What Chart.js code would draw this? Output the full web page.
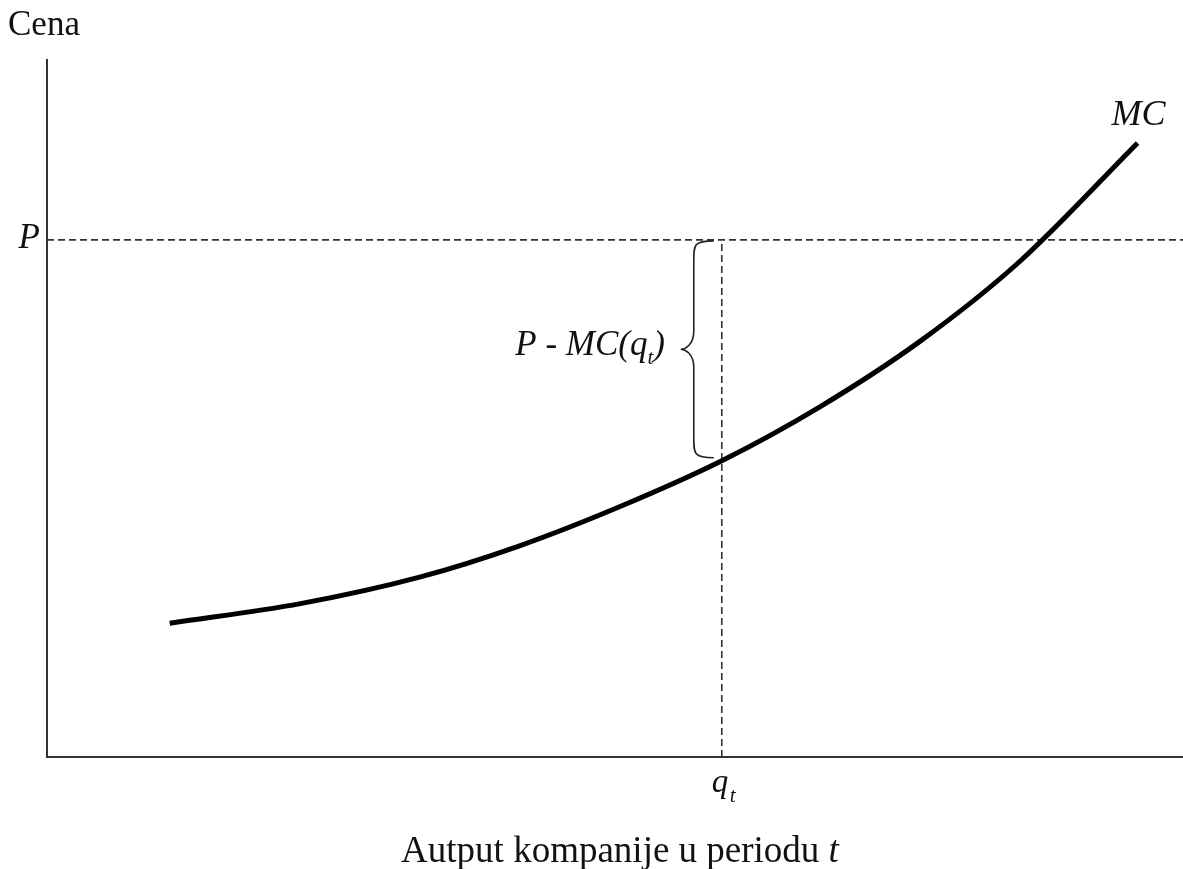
<!DOCTYPE html>
<html>
<head>
<meta charset="utf-8">
<script src="https://cdn.jsdelivr.net/npm/chart.js@4"></script>
<style>
  body { margin: 0; background: #fff; }
</style>
</head>
<body>
<canvas id="chart" width="1183" height="869"></canvas>
<script>
// Kriva granicnog troska (MC), ocitano sa slike
const mcOutput = [1.08, 2.23, 3.28, 4.16, 5.04, 5.94, 6.80, 7.69, 8.57, 9.60];
const mcCost = [1.92, 2.20, 2.58, 3.03, 3.59, 4.25, 5.02, 5.97, 7.12, 8.81];

// Cena P i output q_t
const priceP = 7.42;
const outputQt = 5.94;
const mcAtQt = 4.25;

const axisMax = [10, 10];

const serif = '"Liberation Serif", "Times New Roman", serif';

// Plugin za tekst i viticastu zagradu
const labelsPlugin = {
  id: 'labels',
  afterDraw(chart) {
    const ctx = chart.ctx;
    const xs = chart.scales.x;
    const ys = chart.scales.y;
    ctx.save();
    ctx.fillStyle = '#111';
    ctx.textBaseline = 'alphabetic';

    // Cena
    ctx.font = '35px ' + serif;
    ctx.textAlign = 'left';
    ctx.fillText('Cena', 8, 35);

    // P
    const py = ys.getPixelForValue(priceP);
    ctx.font = 'italic 35px ' + serif;
    ctx.textAlign = 'right';
    ctx.fillText('P', 40, py + 8);

    // q_t
    const qx = xs.getPixelForValue(outputQt);
    ctx.textAlign = 'left';
    ctx.font = 'italic 33px ' + serif;
    ctx.fillText('q', qx - 10, 792);
    ctx.font = 'italic 21px ' + serif;
    ctx.fillText('t', qx + 8, 802);

    // MC
    const lastX = xs.getPixelForValue(mcOutput[mcOutput.length - 1]);
    const lastY = ys.getPixelForValue(mcCost[mcCost.length - 1]);
    ctx.font = 'italic 36px ' + serif;
    ctx.fillText('MC', lastX - 26, lastY - 18);

    // Viticasta zagrada
    const yTop = py + 1;
    const yBot = ys.getPixelForValue(mcAtQt) - 3;
    const yMid = (yTop + yBot) / 2;
    const xr = qx - 8;
    const xm = xr - 20;
    const xt = xr - 33;
    ctx.strokeStyle = '#222';
    ctx.lineWidth = 1.6;
    ctx.beginPath();
    ctx.moveTo(xr, yTop);
    ctx.bezierCurveTo(xm, yTop, xm, yTop + 4, xm, yTop + 20);
    ctx.lineTo(xm, yMid - 18);
    ctx.bezierCurveTo(xm, yMid - 4, xt + 4, yMid, xt, yMid);
    ctx.bezierCurveTo(xt + 4, yMid, xm, yMid + 4, xm, yMid + 18);
    ctx.lineTo(xm, yBot - 20);
    ctx.bezierCurveTo(xm, yBot - 4, xm, yBot, xr, yBot);
    ctx.stroke();

    // P - MC(q_t)
    ctx.font = 'italic 35px ' + serif;
    const part1 = 'P - MC(q';
    const w1 = ctx.measureText(part1).width;
    const wParen = ctx.measureText(')').width;
    ctx.font = 'italic 21px ' + serif;
    const wSub = ctx.measureText('t').width;
    let tx = 665 - (w1 + wSub + wParen);
    const tb = yMid + 6;
    ctx.font = 'italic 35px ' + serif;
    ctx.fillText(part1, tx, tb);
    ctx.font = 'italic 21px ' + serif;
    ctx.fillText('t', tx + w1, tb + 9);
    ctx.font = 'italic 35px ' + serif;
    ctx.fillText(')', tx + w1 + wSub, tb);

    // Autput kompanije u periodu t
    ctx.font = '37px ' + serif;
    const main = 'Autput kompanije u periodu ';
    const wm = ctx.measureText(main).width;
    ctx.font = 'italic 37px ' + serif;
    const wt = ctx.measureText('t').width;
    const bx = 620 - (wm + wt) / 2;
    ctx.font = '37px ' + serif;
    ctx.fillText(main, bx, 862);
    ctx.font = 'italic 37px ' + serif;
    ctx.fillText('t', bx + wm, 862);

    ctx.restore();
  }
};

const ctx = document.getElementById('chart').getContext('2d');

new Chart(ctx, {
  type: 'scatter',
  data: {
    datasets: [
      {
        label: 'P',
        data: [{ x: 0, y: priceP }, { x: axisMax[0], y: priceP }],
        showLine: true,
        borderColor: '#333',
        borderWidth: 1.6,
        borderDash: [7, 4],
        pointRadius: 0,
        order: 3
      },
      {
        label: 'q_t',
        data: [{ x: outputQt, y: 0 }, { x: outputQt, y: priceP }],
        showLine: true,
        borderColor: '#333',
        borderWidth: 1.6,
        borderDash: [7, 4],
        pointRadius: 0,
        order: 2
      },
      {
        label: 'MC',
        data: mcOutput.map((x, i) => ({ x: x, y: mcCost[i] })),
        showLine: true,
        borderColor: '#000',
        borderWidth: 5,
        cubicInterpolationMode: 'monotone',
        pointRadius: 0,
        order: 1
      }
    ]
  },
  options: {
    responsive: false,
    animation: false,
    layout: {
      padding: { left: 47, top: 60, right: 0, bottom: 112 }
    },
    plugins: {
      legend: { display: false },
      tooltip: { enabled: false }
    },
    scales: {
      x: {
        type: 'linear',
        min: 0,
        max: axisMax[0],
        grid: { display: false, drawTicks: false },
        ticks: { display: false },
        border: { display: true, color: '#333', width: 2 }
      },
      y: {
        type: 'linear',
        min: 0,
        max: axisMax[1],
        grid: { display: false, drawTicks: false },
        ticks: { display: false },
        border: { display: true, color: '#333', width: 2 }
      }
    }
  },
  plugins: [labelsPlugin]
});
</script>
</body>
</html>
